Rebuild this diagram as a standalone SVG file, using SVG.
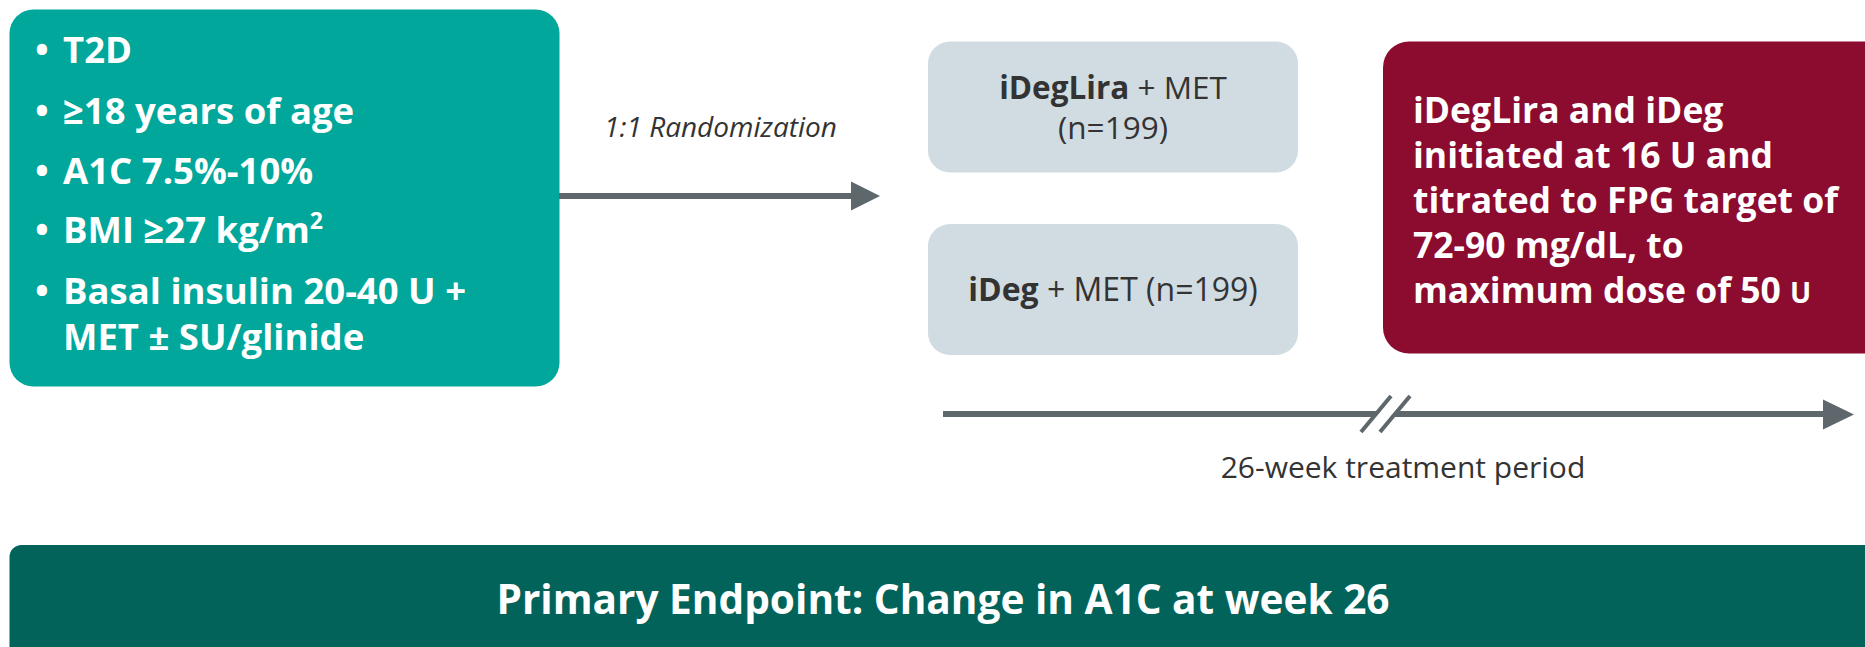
<svg xmlns="http://www.w3.org/2000/svg" width="1865" height="647" viewBox="0 0 1865 647">
<style>
.wb{font-family:"Open Sans","Liberation Sans",sans-serif;font-weight:700;fill:#ffffff}
.dk{font-family:"Open Sans","Liberation Sans",sans-serif;fill:#333333}
.b{font-weight:700}
</style>
<rect width="1865" height="647" fill="#ffffff"/>
<g id="criteria">
<rect x="9.5" y="9.5" width="550" height="377" rx="24" fill="#00a79a"/>
<g class="wb" font-size="36.5">
<text x="35" y="63">•</text><text x="63" y="63">T2D</text>
<text x="35" y="124">•</text><text x="63" y="124">≥18 years of age</text>
<text x="35" y="184">•</text><text x="63" y="184">A1C 7.5%-10%</text>
<text x="35" y="243">•</text><text x="63" y="243">BMI ≥27 kg/m<tspan font-size="23" dy="-14">2</tspan></text>
<text x="35" y="304">•</text><text x="63" y="304">Basal insulin 20-40 U +</text>
<text x="63" y="350">MET ± SU/glinide</text>
</g>
</g>
<g id="arm1">
<rect x="928" y="41.5" width="370" height="131" rx="22" fill="#d1dce2"/>
<text class="dk" font-size="31.5" x="1113" y="99" text-anchor="middle"><tspan class="b">iDegLira</tspan> + MET</text>
<text class="dk" font-size="31.5" x="1113" y="139" text-anchor="middle">(n=199)</text>
</g>
<g id="arm2">
<rect x="928" y="224" width="370" height="131" rx="22" fill="#d1dce2"/>
<text class="dk" font-size="32" x="1113" y="301" text-anchor="middle"><tspan class="b">iDeg</tspan> + MET (n=199)</text>
</g>
<g id="titration">
<rect x="1383" y="41.5" width="520" height="312" rx="26" fill="#8c0c30"/>
<g class="wb" font-size="35.5">
<text x="1413" y="123">iDegLira and iDeg</text>
<text x="1413" y="168">initiated at 16 U and</text>
<text x="1413" y="213">titrated to FPG target of</text>
<text x="1413" y="258">72-90 mg/dL, to</text>
<text x="1413" y="303">maximum dose of 50 <tspan font-size="28">U</tspan></text>
</g>
</g>
<g id="endpoint">
<rect x="9.5" y="545" width="1880" height="130" rx="12" fill="#02635a"/>
<text class="wb" font-size="40.6" x="943" y="614" text-anchor="middle">Primary Endpoint: Change in A1C at week 26</text>
</g>
<g id="connectors">
<line x1="559" y1="196" x2="852" y2="196" stroke="#5e676c" stroke-width="6"/>
<polygon points="851,181.5 880,196 851,210.5" fill="#5e676c"/>
<text class="dk" font-size="28" font-style="italic" x="604" y="137">1:1 Randomization</text>
<line x1="943" y1="414" x2="1824" y2="414" stroke="#5e676c" stroke-width="6"/>
<polygon points="1823,399.5 1854,414.5 1823,429.5" fill="#5e676c"/>
<polygon points="1363,432 1393,396 1408,396 1378,432" fill="#ffffff"/>
<line x1="1361" y1="432" x2="1391" y2="396" stroke="#5e676c" stroke-width="4"/>
<line x1="1380" y1="432" x2="1410" y2="396" stroke="#5e676c" stroke-width="4"/>
<text class="dk" font-size="30" x="1403" y="478" text-anchor="middle">26-week treatment period</text>
</g>
</svg>
